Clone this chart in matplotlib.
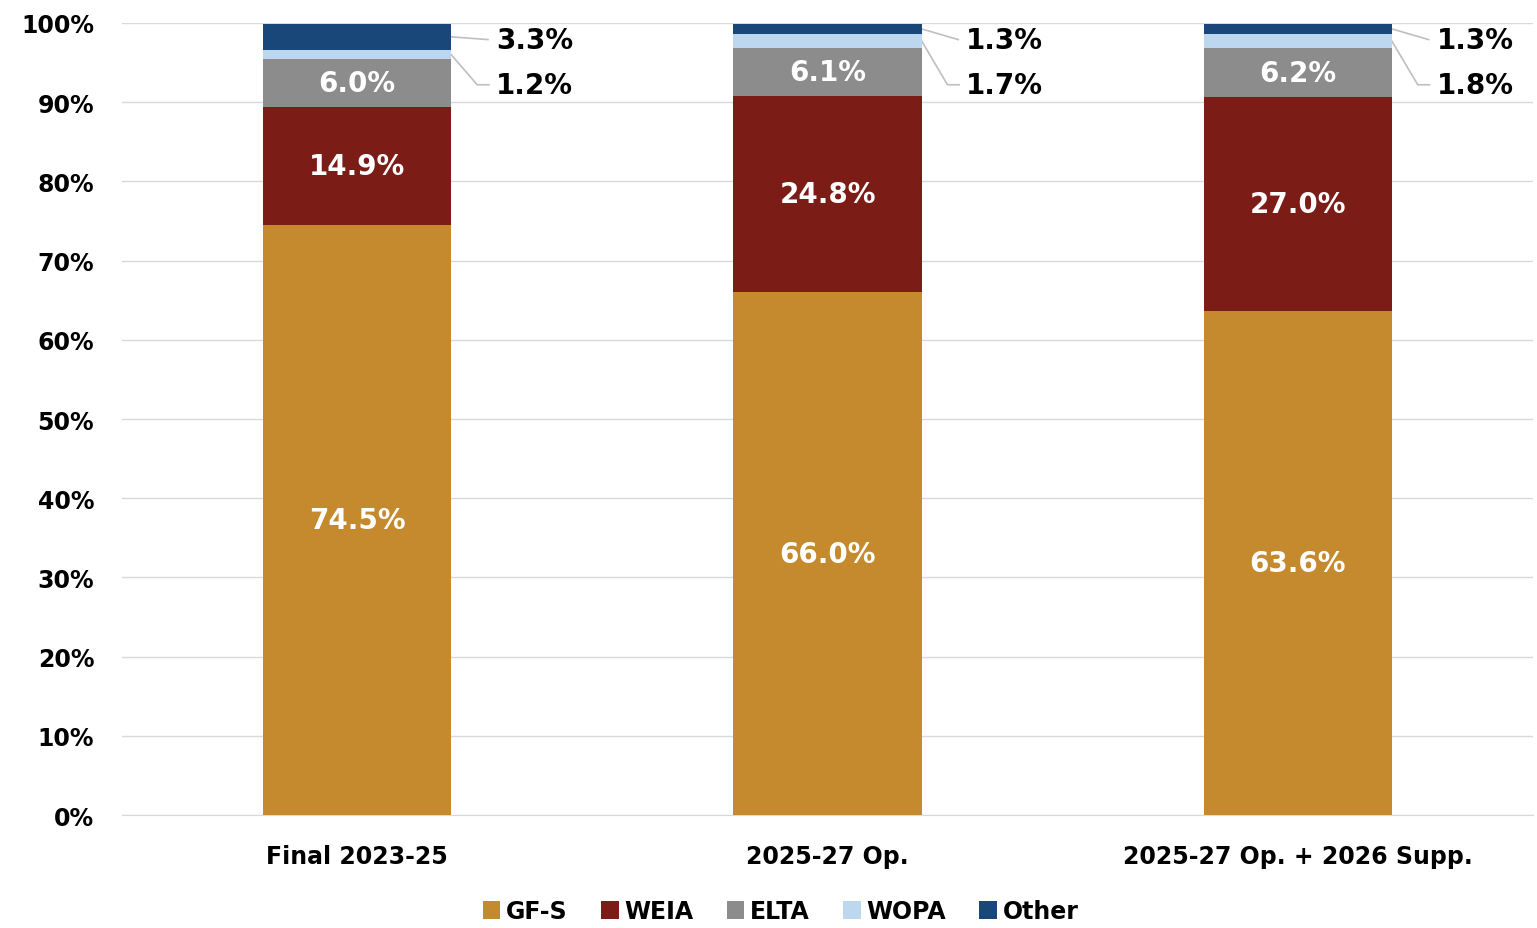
import matplotlib
matplotlib.use("Agg")
import matplotlib.pyplot as plt
import numpy as np

plt.rcParams['font.family'] = ['DejaVu Sans']
plt.rcParams['font.weight'] = 'bold'

categories = ["Final 2023-25", "2025-27 Op.", "2025-27 Op. + 2026 Supp."]
series_names = ["GF-S", "WEIA", "ELTA", "WOPA", "Other"]
gfs = [74.5, 66.0, 63.6]
weia = [14.9, 24.8, 27.0]
elta = [6.0, 6.1, 6.2]
wopa = [1.2, 1.7, 1.8]
other = [3.3, 1.3, 1.3]
colors = ["#C68A2E", "#7B1C17", "#8C8C8C", "#BDD7EE", "#1A477A"]
yticks = [0, 10, 20, 30, 40, 50, 60, 70, 80, 90, 100]
ytick_labels = [f"{v}%" for v in yticks]

series = [gfs, weia, elta, wopa, other]

fig = plt.figure(figsize=(15.37, 9.29), dpi=100)
ax = fig.add_axes([0.0794, 0.1216, 0.918, 0.8526])

x = np.arange(len(categories))
width = 0.4
bottom = np.zeros(len(categories))
for name, vals, c in zip(series_names, series, colors):
    ax.bar(x, vals, width, bottom=bottom, color=c, label=name, zorder=3)
    if name in ("GF-S", "WEIA", "ELTA"):
        for xi, b, v in zip(x, bottom, vals):
            ax.text(xi, b + v / 2, f"{v:.1f}%", ha='center', va='center',
                    color='white', fontsize=20, fontweight='bold', zorder=4)
    bottom = bottom + np.array(vals)

tot_before_wopa = np.array(gfs) + np.array(weia) + np.array(elta)
for i, xi in enumerate(x):
    right = xi + width / 2
    oy = tot_before_wopa[i] + wopa[i] + other[i] / 2
    ty_o = 97.9
    ax.plot([right, right + 0.078], [oy, ty_o], color='#BFBFBF', lw=1.2, zorder=2,
            clip_on=False)
    ax.text(right + 0.095, ty_o, f"{other[i]:.1f}%", ha='left', va='center',
            fontsize=20, fontweight='bold', color='black')
    wy = tot_before_wopa[i] + wopa[i] / 2
    ty_w = 92.2
    ax.plot([right, right + 0.055, right + 0.08], [wy, ty_w, ty_w], color='#BFBFBF',
            lw=1.2, zorder=2, clip_on=False)
    ax.text(right + 0.095, ty_w, f"{wopa[i]:.1f}%", ha='left', va='center',
            fontsize=20, fontweight='bold', color='black')

ax.set_xlim(-0.5, 2.5)
ax.set_ylim(0, 100)
ax.set_yticks(yticks)
ax.set_yticklabels(ytick_labels, fontsize=17, fontweight='bold')
ax.set_xticks(x)
ax.set_xticklabels(categories, fontsize=17, fontweight='bold')
ax.tick_params(axis='both', length=0)
ax.tick_params(axis='y', pad=20)
ax.tick_params(axis='x', pad=21)
ax.grid(axis='y', color='#D9D9D9', lw=1, zorder=0)
for s in ['top', 'right', 'left']:
    ax.spines[s].set_visible(False)
ax.spines['bottom'].set_color('#D9D9D9')

leg = fig.legend(loc='center', ncol=5, bbox_to_anchor=(0.508, 0.018),
                 frameon=False, fontsize=17, handlelength=0.75, handleheight=0.75,
                 handletextpad=0.25, columnspacing=1.4)
for t in leg.get_texts():
    t.set_fontweight('bold')

fig.savefig("out.png", dpi=100)
